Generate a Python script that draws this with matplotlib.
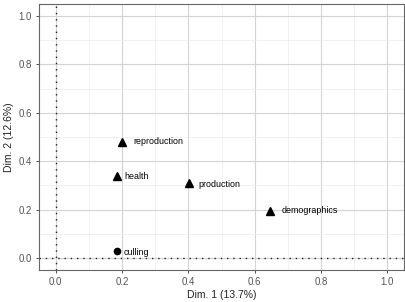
import matplotlib
matplotlib.use("Agg")
import matplotlib.pyplot as plt
from matplotlib.ticker import MultipleLocator

labels = ["reproduction", "health", "production", "demographics", "culling"]
dim1 = [0.201, 0.185, 0.402, 0.645, 0.185]
dim2 = [0.481, 0.337, 0.310, 0.196, 0.029]
markers = ["^", "^", "^", "^", "o"]
xticks = [0.0, 0.2, 0.4, 0.6, 0.8, 1.0]
yticks = [0.0, 0.2, 0.4, 0.6, 0.8, 1.0]

# label offsets in points (styling, like ggrepel)
offsets = [(8, 0), (5, 0), (7, -1), (9, 0), (5, -1)]

plt.rcParams['font.family'] = ['Liberation Sans', 'DejaVu Sans']
fig = plt.figure(figsize=(4.05, 3.02), dpi=100)
ax = fig.add_axes([39/405, 32/302, 365/405, 266/302])

ax.set_xlim(-0.05, 1.05)
ax.set_ylim(-0.05, 1.05)
ax.set_xticks(xticks)
ax.set_yticks(yticks)
ax.xaxis.set_minor_locator(MultipleLocator(0.1))
ax.yaxis.set_minor_locator(MultipleLocator(0.1))
ax.grid(True, which='major', color='#d4d4d4', linewidth=0.8)
ax.grid(True, which='minor', color='#ebebeb', linewidth=0.5)
ax.set_axisbelow(True)
ax.tick_params(which='minor', length=0)
ax.tick_params(which='major', length=2.5, width=0.6, color='#333333',
               labelsize=7, labelcolor='#555555', pad=2.5)
for s in ax.spines.values():
    s.set_color('#666666')
    s.set_linewidth(0.8)

ax.axvline(0, color='#222222', linestyle=(0, (1, 3.5)), linewidth=1.0)
ax.axhline(0, color='#222222', linestyle=(0, (1, 3.5)), linewidth=1.0)

for lab, x, y, m, off in zip(labels, dim1, dim2, markers, offsets):
    ax.plot(x, y, marker=m, color='black', markersize=5.5 if m == '^' else 4.5,
            linestyle='none')
    ax.annotate(lab, (x, y), xytext=off, textcoords='offset points',
                fontsize=6.4, va='center', ha='left', color='black')

ax.set_xticklabels([f"{t:.1f}" for t in xticks])
ax.set_yticklabels([f"{t:.1f}" for t in yticks])
ax.set_xlabel("Dim. 1 (13.7%)", fontsize=7.5, color='#222222', labelpad=2)
ax.set_ylabel("Dim. 2 (12.6%)", fontsize=7.5, color='#222222', labelpad=3)

fig.savefig("out.png", dpi=100)
